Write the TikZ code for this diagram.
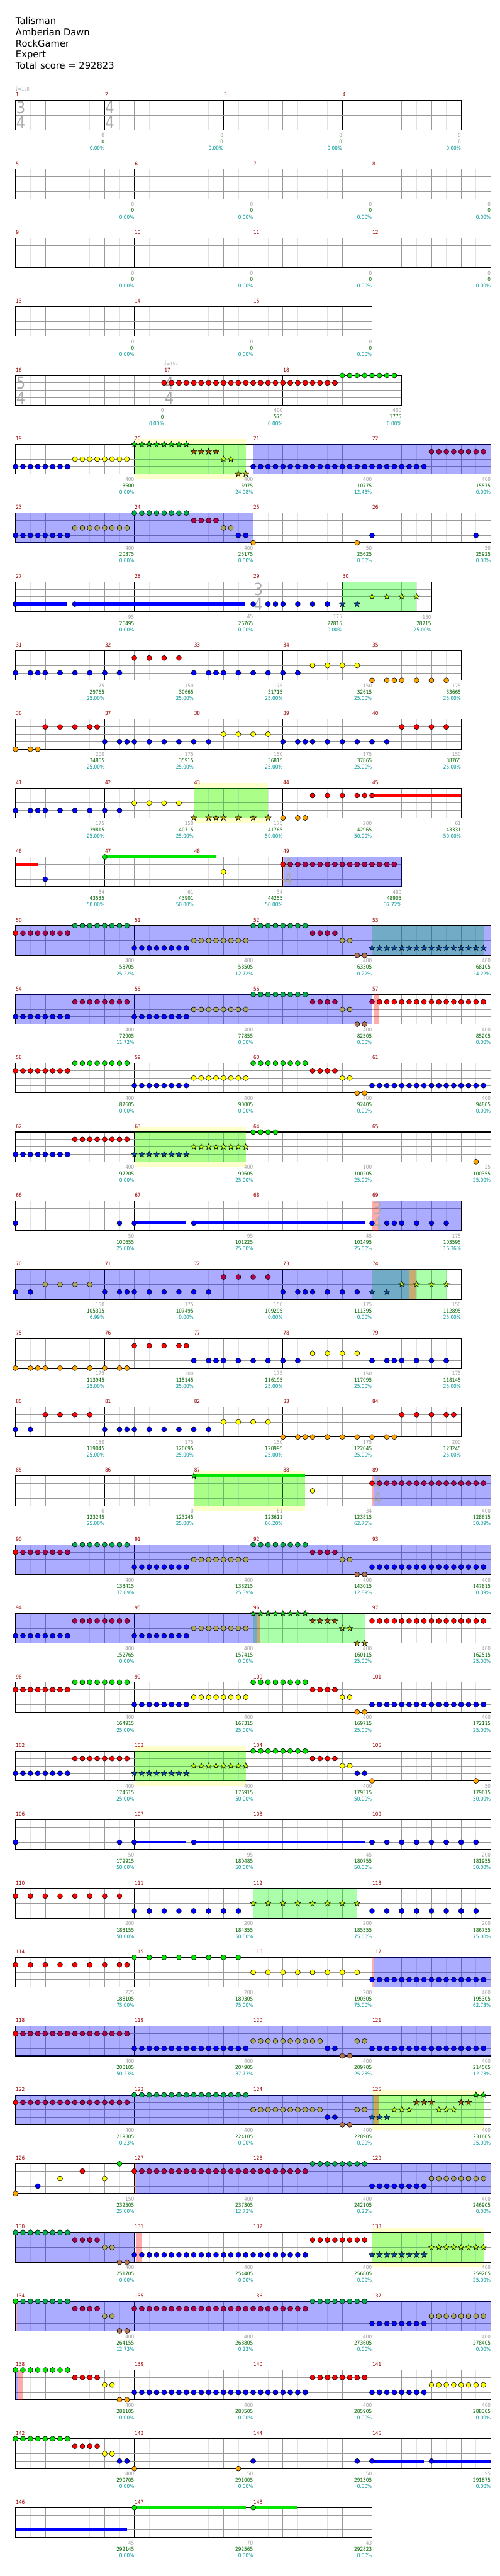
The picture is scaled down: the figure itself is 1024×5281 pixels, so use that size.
\documentclass[tikz,border=0pt]{standalone}
\usepackage{fontspec}
\setmainfont{DejaVu Sans}
\newfontfamily\smallfont[FakeStretch=0.86]{DejaVu Sans}

\definecolor{ngreen}{RGB}{0,230,0}
\definecolor{nred}{RGB}{255,0,0}
\definecolor{nyellow}{RGB}{255,255,0}
\definecolor{nblue}{RGB}{0,0,255}
\definecolor{norange}{RGB}{255,165,0}
\definecolor{odG}{RGB}{0,176,80}
\definecolor{odR}{RGB}{176,0,80}
\definecolor{odY}{RGB}{172,165,95}
\definecolor{odO}{RGB}{180,115,80}
\definecolor{sG}{RGB}{0,230,0}
\definecolor{sR}{RGB}{170,80,0}
\definecolor{sY}{RGB}{190,255,0}
\definecolor{sB}{RGB}{0,80,170}
\definecolor{sO}{RGB}{190,170,0}
\definecolor{mnumred}{RGB}{153,0,0}
\definecolor{scoregray}{RGB}{160,160,160}
\definecolor{scoregreen}{RGB}{0,100,0}
\definecolor{scoreteal}{RGB}{0,150,150}
\definecolor{gridgray}{RGB}{153,153,153}
\definecolor{gridlight}{RGB}{225,225,225}
\definecolor{tsgray}{RGB}{170,170,170}
\definecolor{halofill}{RGB}{255,255,204}

% x position of a sixteenth inside a row, top of row r
\newcommand\xn[1]{31.8+15.225*(#1)}
\newcommand\setrow[1]{\pgfmathsetmacro\rowy{205.7+141*#1}}

% measures: start/length/number/points/total/percent
\newcommand\bars[1]{%
  \foreach \n/\ml/\mnr/\vg/\vs/\vp in {#1}{%
    \pgfmathtruncatemacro\nb{\ml/4-1}
    \foreach \j in {0,...,\nb}
      \draw[halfline] ({\xn{\n+4*\j+2}},\rowy) -- ++(0,61);
    \foreach \j in {1,...,\nb}
      \draw[beatline] ({\xn{\n+4*\j}},\rowy) -- ++(0,61);
    \draw[barline] ({\xn{\n}},\rowy) -- ++(0,61);
    \node[mnum] (m\mnr) at ({\xn{\n}+0.5},{\rowy-11.5}) {\mnr};
    \node[sgray] (g\mnr) at ({\xn{\n+\ml}},{\rowy+72}) {\vg};
    \node[sgreen] (s\mnr) at ({\xn{\n+\ml}},{\rowy+85}) {\vs};
    \node[steal] (p\mnr) at ({\xn{\n+\ml}},{\rowy+98}) {\vp};
  }}
\newcommand\staff[1]{%
  \foreach \ly in {15.25,30.5,45.75}
    \draw[laneline] ({\xn{0}},{\rowy+\ly}) -- ({\xn{#1}},{\rowy+\ly});
  \draw[staffframe] ({\xn{0}},\rowy) rectangle ({\xn{#1}},{\rowy+61});}
\newcommand\halo[2]{\fill[halofill] ({\xn{#1}},{\rowy-10.5}) rectangle ({\xn{#2}},{\rowy+71.5});}
\newcommand\odzone[2]{\fill[blue, fill opacity=0.33] ({\xn{#1}},\rowy) rectangle ({\xn{#2}},{\rowy+61});}
\newcommand\spzone[2]{\fill[green, fill opacity=0.33] ({\xn{#1}},\rowy) rectangle ({\xn{#2}},{\rowy+61});}
\newcommand\hitzone[2]{\fill[red, fill opacity=0.33] ({\xn{#1}},\rowy) rectangle ({\xn{#2}},{\rowy+61});}
\newcommand\tsig[4]{%
  \node[tsnum] (#1a) at ({\xn{#2}+1},{\rowy+15.25}) {#3};
  \node[tsnum] (#1b) at ({\xn{#2}+1},{\rowy+45.75}) {#4};}
% notes: lane, colour, sixteenths
\newcommand\nts[3]{\foreach \k in {#3}
  \filldraw[note, fill=#2] ({\xn{\k}},{\rowy+15.25*#1}) circle (5.2);}
\newcommand\sts[3]{\foreach \k in {#3}
  \filldraw[note, fill=#2] ({\xn{\k}},{\rowy+15.25*#1})
    +(-90:6.4) -- +(-54:2.6) -- +(-18:6.4) -- +(18:2.6) -- +(54:6.4)
    -- +(90:2.6) -- +(126:6.4) -- +(162:2.6) -- +(198:6.4) -- +(234:2.6) -- cycle;}
\newcommand\sus[4]{\fill[#2] ({\xn{#3}},{\rowy+15.25*#1-3.1}) rectangle ({\xn{#4}},{\rowy+15.25*#1+3.1});}

\begin{document}
\begin{tikzpicture}[x=0.5pt, y=-0.5pt,
    tiny/.style={inner sep=0, font=\smallfont\fontsize{5.5}{6}\selectfont},
    mnum/.style={tiny, anchor=west, text=mnumred},
    sgray/.style={tiny, anchor=east, text=scoregray},
    sgreen/.style={tiny, anchor=east, text=scoregreen},
    steal/.style={tiny, anchor=east, text=scoreteal},
    title/.style={anchor=base west, inner sep=0, font=\fontsize{9.5}{11}\selectfont},
    tsnum/.style={anchor=west, inner sep=0, text=tsgray, font=\smallfont\fontsize{17}{18}\selectfont},
    tempo/.style={anchor=west, inner sep=0, text=tsgray, font=\smallfont\fontsize{5}{6}\selectfont},
    laneline/.style={draw=gridgray, line width=0.5pt},
    beatline/.style={draw=gridgray, line width=0.5pt},
    halfline/.style={draw=gridlight, line width=0.5pt},
    barline/.style={draw=black, line width=0.5pt},
    staffframe/.style={draw=black, line width=0.7pt},
    note/.style={draw=black, line width=0.35pt}]
  \fill[white] (0,0) rectangle (1024,5281);
  \useasboundingbox (0,0) rectangle (1024,5281);

  \node[title] (songname) at (31.8,49.3) {Talisman};
  \node[title] (bandname) at (31.8,72.4) {Amberian Dawn};
  \node[title] (chartname) at (31.8,95.5) {RockGamer};
  \node[title] (levelname) at (31.8,118.6) {Expert};
  \node[title] (totalscore) at (31.8,141.7) {Total score = 292823};

  % rows 0-3: empty intro
  \setrow{0}
  \bars{0/12/1/0/0/0.00\%, 12/16/2/0/0/0.00\%, 28/16/3/0/0/0.00\%, 44/16/4/0/0/0.00\%}
  \staff{60}
  \tsig{tsa}{0}{3}{4} \tsig{tsb}{12}{4}{4}
  \node[tempo] (tempoa) at ({\xn{0}-1},{\rowy-25}) {{\fontsize{7}{8}\selectfont ♩}=120};
  \setrow{1}
  \bars{0/16/5/0/0/0.00\%, 16/16/6/0/0/0.00\%, 32/16/7/0/0/0.00\%, 48/16/8/0/0/0.00\%}
  \staff{64}
  \setrow{2}
  \bars{0/16/9/0/0/0.00\%, 16/16/10/0/0/0.00\%, 32/16/11/0/0/0.00\%, 48/16/12/0/0/0.00\%}
  \staff{64}
  \setrow{3}
  \bars{0/16/13/0/0/0.00\%, 16/16/14/0/0/0.00\%, 32/16/15/0/0/0.00\%}
  \staff{48}

  % row 4
  \setrow{4}
  \bars{0/20/16/0/0/0.00\%, 20/16/17/400/575/0.00\%, 36/16/18/400/1775/0.00\%}
  \staff{52}
  \tsig{tsc}{0}{5}{4} \tsig{tsd}{20}{4}{4}
  \node[tempo] (tempob) at ({\xn{20}-1},{\rowy-25}) {{\fontsize{7}{8}\selectfont ♩}=152};
  \nts{1}{nred}{20,...,43} \nts{0}{ngreen}{44,...,51}

  % row 5
  \setrow{5}
  \halo{16}{31}
  \bars{0/16/19/400/3600/0.00\%, 16/16/20/400/5975/24.98\%, 32/16/21/400/10775/12.48\%, 48/16/22/400/15575/0.00\%}
  \staff{64}
  \spzone{16}{31} \odzone{32}{64}
  \nts{3}{nblue}{0,...,7} \nts{2}{nyellow}{8,...,15}
  \sts{0}{sG}{16,...,23} \sts{1}{sR}{24,...,27} \sts{2}{sY}{28,29} \sts{4}{sO}{30,31}
  \nts{3}{nblue}{32,...,55} \nts{1}{odR}{56,...,63}

  % row 6
  \setrow{6}
  \bars{0/16/23/400/20375/0.00\%, 16/16/24/400/25175/0.00\%, 32/16/25/50/25625/0.00\%, 48/16/26/50/25925/0.00\%}
  \staff{64}
  \odzone{0}{32}
  \nts{3}{nblue}{0,...,7} \nts{2}{odY}{8,...,15} \nts{0}{odG}{16,...,23} \nts{1}{odR}{24,...,27}
  \nts{2}{odY}{28,29} \nts{3}{nblue}{30,31} \nts{4}{norange}{32,46} \nts{3}{nblue}{48,62}

  % row 7
  \setrow{7}
  \bars{0/16/27/95/26495/0.00\%, 16/16/28/45/26765/0.00\%, 32/12/29/175/27815/0.00\%, 44/12/30/150/28715/25.00\%}
  \staff{56}
  \spzone{44}{54}
  \tsig{tse}{32}{3}{4}
  \sus{3}{nblue}{0}{6.97} \sus{3}{nblue}{8}{30.97}
  \nts{3}{nblue}{0,8,32,34,35,36,38,40,42}
  \sts{3}{sB}{44,46} \sts{2}{sY}{48,50,52,54}

  % row 8
  \setrow{8}
  \bars{0/12/31/175/29765/25.00\%, 12/12/32/150/30665/25.00\%, 24/12/33/175/31715/25.00\%, 36/12/34/150/32615/25.00\%, 48/12/35/175/33665/25.00\%}
  \staff{60}
  \nts{3}{nblue}{0,2,3,4,6,8,10,12,14,24,26,27,28,30,32,34,36,38}
  \nts{1}{nred}{16,18,20,22} \nts{2}{nyellow}{40,42,44,46} \nts{4}{norange}{48,50,51,52,54,56,58}

  % row 9
  \setrow{9}
  \bars{0/12/36/200/34865/25.00\%, 12/12/37/175/35915/25.00\%, 24/12/38/150/36815/25.00\%, 36/12/39/175/37865/25.00\%, 48/12/40/150/38765/25.00\%}
  \staff{60}
  \nts{4}{norange}{0,2,3} \nts{1}{nred}{4,6,8,10,11,52,54,56,58}
  \nts{3}{nblue}{12,14,15,16,18,20,22,24,26,36,38,39,40,42,44,46,48,50}
  \nts{2}{nyellow}{28,30,32,34}

  % row 10
  \setrow{10}
  \halo{24}{34}
  \bars{0/12/41/175/39815/25.00\%, 12/12/42/150/40715/25.00\%, 24/12/43/175/41765/50.00\%, 36/12/44/200/42965/50.00\%, 48/12/45/61/43331/50.00\%}
  \staff{60}
  \spzone{24}{34}
  \nts{3}{nblue}{0,2,3,4,6,8,10,12,14} \nts{2}{nyellow}{16,18,20,22}
  \sts{4}{sO}{24,26,27,28,30,32,34} \nts{4}{norange}{36,38,39}
  \sus{1}{nred}{48}{60} \nts{1}{nred}{40,42,44,46,47,48}

  % row 11
  \setrow{11}
  \bars{0/12/46/34/43535/50.00\%, 12/12/47/61/43901/50.00\%, 24/12/48/34/44255/50.00\%, 36/16/49/400/48905/37.72\%}
  \staff{52}
  \hitzone{36}{36.2} \odzone{36.2}{52}
  \tsig{tsf}{36}{4}{4}
  \sus{1}{nred}{0}{3} \nts{3}{nblue}{4}
  \sus{0}{ngreen}{12}{27} \nts{0}{ngreen}{12} \nts{2}{nyellow}{28}
  \nts{1}{nred}{36} \nts{1}{odR}{37,...,51}

  % row 12
  \setrow{12}
  \bars{0/16/50/400/53705/25.22\%, 16/16/51/400/58505/12.72\%, 32/16/52/400/63305/0.22\%, 48/16/53/400/68105/24.22\%}
  \staff{64}
  \spzone{48}{63} \odzone{0}{64}
  \nts{1}{nred}{0} \nts{1}{odR}{1,...,7} \nts{0}{odG}{8,...,15} \nts{3}{nblue}{16,...,23}
  \nts{2}{odY}{24,...,31} \nts{0}{odG}{32,...,39} \nts{1}{odR}{40,...,43} \nts{2}{odY}{44,45}
  \nts{4}{odO}{46,47} \sts{3}{sB}{48,...,63}

  % row 13
  \setrow{13}
  \bars{0/16/54/400/72905/11.72\%, 16/16/55/400/77855/0.00\%, 32/16/56/400/82505/0.00\%, 48/16/57/400/85205/0.00\%}
  \staff{64}
  \odzone{0}{48} \hitzone{48.2}{48.9}
  \nts{3}{nblue}{0,...,7} \nts{1}{odR}{8,...,15} \nts{3}{nblue}{16,...,23} \nts{2}{odY}{24,...,31}
  \nts{0}{odG}{32,...,39} \nts{1}{odR}{40,...,43} \nts{2}{odY}{44,45} \nts{4}{odO}{46,47}
  \nts{1}{odR}{48} \nts{1}{nred}{49,...,63}

  % row 14
  \setrow{14}
  \bars{0/16/58/400/87605/0.00\%, 16/16/59/400/90005/0.00\%, 32/16/60/400/92405/0.00\%, 48/16/61/400/94805/0.00\%}
  \staff{64}
  \nts{1}{nred}{0,...,7} \nts{0}{ngreen}{8,...,15} \nts{3}{nblue}{16,...,23} \nts{2}{nyellow}{24,...,31}
  \nts{0}{ngreen}{32,...,39} \nts{1}{nred}{40,...,43} \nts{2}{nyellow}{44,45} \nts{4}{norange}{46,47}
  \nts{3}{nblue}{48,...,63}

  % row 15
  \setrow{15}
  \halo{16}{31}
  \bars{0/16/62/400/97205/0.00\%, 16/16/63/400/99605/25.00\%, 32/16/64/100/100205/25.00\%, 48/16/65/25/100355/25.00\%}
  \staff{64}
  \spzone{16}{31}
  \nts{3}{nblue}{0,...,7} \nts{1}{nred}{8,...,15} \sts{3}{sB}{16,...,23} \sts{2}{sY}{24,...,31}
  \nts{0}{ngreen}{32,...,35} \nts{4}{norange}{62}

  % row 16
  \setrow{16}
  \bars{0/16/66/50/100655/25.00\%, 16/16/67/95/101225/25.00\%, 32/16/68/45/101495/25.00\%, 48/12/69/175/103595/16.36\%}
  \staff{60}
  \hitzone{48}{48.95} \odzone{48.95}{60}
  \tsig{tsg}{48}{3}{4}
  \sus{3}{nblue}{16}{23} \sus{3}{nblue}{24}{47}
  \nts{3}{nblue}{0,14,16,24,48,50,51,52,54,56,58}

  % row 17
  \setrow{17}
  \bars{0/12/70/150/105395/6.99\%, 12/12/71/175/107495/0.00\%, 24/12/72/150/109295/0.00\%, 36/12/73/175/111395/0.00\%, 48/12/74/150/112895/25.00\%}
  \staff{60}
  \spzone{48}{58} \odzone{0}{53} \hitzone{53}{54}
  \nts{3}{nblue}{0,2,12,14,15,16,18,20,22,24,26,36,38,39,40,42,44,46}
  \nts{2}{odY}{4,6,8,10} \nts{1}{odR}{28,30,32,34}
  \sts{3}{sB}{48,50} \sts{2}{sY}{52,54,56,58}

  % row 18
  \setrow{18}
  \bars{0/12/75/175/113945/25.00\%, 12/12/76/200/115145/25.00\%, 24/12/77/175/116195/25.00\%, 36/12/78/150/117095/25.00\%, 48/12/79/175/118145/25.00\%}
  \staff{60}
  \nts{4}{norange}{0,2,3,4,6,8,10,12,14,15} \nts{1}{nred}{16,18,20,22,23}
  \nts{3}{nblue}{24,26,27,28,30,32,34,36,38,48,50,51,52,54,56,58} \nts{2}{nyellow}{40,42,44,46}

  % row 19
  \setrow{19}
  \bars{0/12/80/150/119045/25.00\%, 12/12/81/175/120095/25.00\%, 24/12/82/150/120995/25.00\%, 36/12/83/175/122045/25.00\%, 48/12/84/200/123245/25.00\%}
  \staff{60}
  \nts{3}{nblue}{0,2,12,14,15,16,18,20,22,24,26} \nts{1}{nred}{4,6,8,10,52,54,56,58,59}
  \nts{2}{nyellow}{28,30,32,34} \nts{4}{norange}{36,38,39,40,42,44,46,48,50,51}

  % row 20
  \setrow{20}
  \halo{24}{39}
  \bars{0/12/85/0/123245/25.00\%, 12/12/86/0/123245/25.00\%, 24/12/87/61/123611/60.20\%, 36/12/88/34/123815/62.75\%, 48/16/89/400/128615/50.39\%}
  \staff{64}
  \spzone{24}{39} \hitzone{48}{48.2} \odzone{48.2}{64}
  \tsig{tsh}{48}{4}{4}
  \sus{0}{ngreen}{24}{39} \sts{0}{sG}{24} \nts{2}{nyellow}{40}
  \nts{1}{nred}{48} \nts{1}{odR}{49,...,63}

  % row 21
  \setrow{21}
  \bars{0/16/90/400/133415/37.89\%, 16/16/91/400/138215/25.39\%, 32/16/92/400/143015/12.89\%, 48/16/93/400/147815/0.39\%}
  \staff{64}
  \odzone{0}{64}
  \nts{1}{nred}{0} \nts{1}{odR}{1,...,7} \nts{0}{odG}{8,...,15} \nts{3}{nblue}{16,...,23}
  \nts{2}{odY}{24,...,31} \nts{0}{odG}{32,...,39} \nts{1}{odR}{40,...,43} \nts{2}{odY}{44,45}
  \nts{4}{odO}{46,47} \nts{3}{nblue}{48,...,63}

  % row 22
  \setrow{22}
  \bars{0/16/94/400/152765/0.00\%, 16/16/95/400/157415/0.00\%, 32/16/96/400/160115/25.00\%, 48/16/97/400/162515/25.00\%}
  \staff{64}
  \spzone{32}{47} \odzone{0}{32.5} \hitzone{32.5}{33}
  \nts{3}{nblue}{0,...,7} \nts{1}{odR}{8,...,15} \nts{3}{nblue}{16,...,23} \nts{2}{odY}{24,...,31}
  \sts{0}{sG}{32,...,39} \sts{1}{sR}{40,...,43} \sts{2}{sY}{44,45} \sts{4}{sO}{46,47}
  \nts{1}{nred}{48,...,63}

  % row 23
  \setrow{23}
  \bars{0/16/98/400/164915/25.00\%, 16/16/99/400/167315/25.00\%, 32/16/100/400/169715/25.00\%, 48/16/101/400/172115/25.00\%}
  \staff{64}
  \nts{1}{nred}{0,...,7} \nts{0}{ngreen}{8,...,15} \nts{3}{nblue}{16,...,23} \nts{2}{nyellow}{24,...,31}
  \nts{0}{ngreen}{32,...,39} \nts{1}{nred}{40,...,43} \nts{2}{nyellow}{44,45} \nts{4}{norange}{46,47}
  \nts{3}{nblue}{48,...,63}

  % row 24
  \setrow{24}
  \halo{16}{31}
  \bars{0/16/102/400/174515/25.00\%, 16/16/103/400/176915/50.00\%, 32/16/104/400/179315/50.00\%, 48/16/105/50/179615/50.00\%}
  \staff{64}
  \spzone{16}{31}
  \nts{3}{nblue}{0,...,7} \nts{1}{nred}{8,...,15} \sts{3}{sB}{16,...,23} \sts{2}{sY}{24,...,31}
  \nts{0}{ngreen}{32,...,39} \nts{1}{nred}{40,...,43} \nts{2}{nyellow}{44,45} \nts{3}{nblue}{46,47}
  \nts{4}{norange}{48,62}

  % row 25
  \setrow{25}
  \bars{0/16/106/50/179915/50.00\%, 16/16/107/95/180485/50.00\%, 32/16/108/45/180755/50.00\%, 48/16/109/200/181955/50.00\%}
  \staff{64}
  \sus{3}{nblue}{16}{23} \sus{3}{nblue}{24}{47}
  \nts{3}{nblue}{0,14,16,24} \nts{3}{nblue}{48,50,...,62}

  % row 26
  \setrow{26}
  \bars{0/16/110/200/183155/50.00\%, 16/16/111/200/184355/50.00\%, 32/16/112/200/185555/75.00\%, 48/16/113/200/186755/75.00\%}
  \staff{64}
  \spzone{32}{46}
  \nts{1}{nred}{0,2,...,14} \nts{3}{nblue}{16,18,...,30} \sts{2}{sY}{32,34,...,46} \nts{3}{nblue}{48,50,...,62}

  % row 27
  \setrow{27}
  \bars{0/16/114/225/188105/75.00\%, 16/16/115/200/189305/75.00\%, 32/16/116/200/190505/75.00\%, 48/16/117/400/195305/62.73\%}
  \staff{64}
  \hitzone{48}{48.25} \odzone{48.25}{64}
  \nts{1}{nred}{0,2,...,14} \nts{1}{nred}{15} \nts{0}{ngreen}{16,18,...,30}
  \nts{2}{nyellow}{32,34,...,46} \nts{3}{nblue}{48,...,63}

  % row 28
  \setrow{28}
  \bars{0/16/118/400/200105/50.23\%, 16/16/119/400/204905/37.73\%, 32/16/120/400/209705/25.23\%, 48/16/121/400/214505/12.73\%}
  \staff{64}
  \odzone{0}{64}
  \nts{1}{nred}{0} \nts{1}{odR}{1,...,15} \nts{3}{nblue}{16,...,31} \nts{2}{odY}{32,...,41}
  \nts{3}{nblue}{42,43} \nts{4}{odO}{44,45} \nts{2}{odY}{46,47} \nts{3}{nblue}{48,...,63}

  % row 29
  \setrow{29}
  \halo{48}{63}
  \bars{0/16/122/400/219305/0.23\%, 16/16/123/400/224105/0.00\%, 32/16/124/400/228905/0.00\%, 48/16/125/400/231605/25.00\%}
  \staff{64}
  \spzone{48}{63} \odzone{0}{48.2} \hitzone{48.2}{49}
  \nts{1}{nred}{0} \nts{1}{odR}{1,...,15} \nts{0}{odG}{16,...,31} \nts{2}{odY}{32,...,41}
  \nts{3}{nblue}{42,43} \nts{4}{odO}{44,45} \nts{2}{odY}{46,47}
  \sts{3}{sB}{48,49,50} \sts{2}{sY}{51,52,53,57,58,59} \sts{1}{sR}{54,55,56,60,61} \sts{0}{sG}{62,63}

  % row 30
  \setrow{30}
  \bars{0/16/126/150/232505/25.00\%, 16/16/127/400/237305/12.73\%, 32/16/128/400/242105/0.23\%, 48/16/129/400/246905/0.00\%}
  \staff{64}
  \hitzone{16}{16.25} \odzone{16.25}{64}
  \nts{4}{norange}{0} \nts{3}{nblue}{3} \nts{2}{nyellow}{6,12} \nts{1}{nred}{9} \nts{0}{ngreen}{14}
  \nts{1}{nred}{16} \nts{1}{odR}{17,...,39} \nts{0}{odG}{40,...,47} \nts{3}{nblue}{48,...,55}
  \nts{2}{odY}{56,...,63}

  % row 31
  \setrow{31}
  \halo{48}{63}
  \bars{0/16/130/400/251705/0.00\%, 16/16/131/400/254405/0.00\%, 32/16/132/400/256805/0.00\%, 48/16/133/400/259205/25.00\%}
  \staff{64}
  \odzone{0}{16} \hitzone{16.2}{16.95} \spzone{48}{63}
  \nts{0}{odG}{0,...,7} \nts{1}{odR}{8,...,11} \nts{2}{odY}{12,13} \nts{4}{odO}{14,15}
  \nts{3}{nblue}{16,...,39} \nts{1}{nred}{40,...,47} \sts{3}{sB}{48,...,55} \sts{2}{sY}{56,...,63}

  % row 32
  \setrow{32}
  \bars{0/16/134/400/264155/12.73\%, 16/16/135/400/268805/0.23\%, 32/16/136/400/273605/0.00\%, 48/16/137/400/278405/0.00\%}
  \staff{64}
  \hitzone{0}{0.2} \odzone{0.2}{64}
  \nts{0}{ngreen}{0} \nts{0}{odG}{1,...,7} \nts{1}{odR}{8,...,11} \nts{2}{odY}{12,13} \nts{4}{odO}{14,15}
  \nts{1}{odR}{16,...,39} \nts{0}{odG}{40,...,47} \nts{3}{nblue}{48,...,55} \nts{2}{odY}{56,...,63}

  % row 33
  \setrow{33}
  \bars{0/16/138/400/281105/0.00\%, 16/16/139/400/283505/0.00\%, 32/16/140/400/285905/0.00\%, 48/16/141/400/288305/0.00\%}
  \staff{64}
  \odzone{0}{0.3} \hitzone{0.3}{1}
  \nts{0}{ngreen}{0,...,7} \nts{1}{nred}{8,...,11} \nts{2}{nyellow}{12,13} \nts{4}{norange}{14,15}
  \nts{3}{nblue}{16,...,39} \nts{1}{nred}{40,...,47} \nts{3}{nblue}{48,...,55} \nts{2}{nyellow}{56,...,63}

  % row 34
  \setrow{34}
  \bars{0/16/142/400/290705/0.00\%, 16/16/143/50/291005/0.00\%, 32/16/144/50/291305/0.00\%, 48/16/145/95/291875/0.00\%}
  \staff{64}
  \nts{0}{ngreen}{0,...,7} \nts{1}{nred}{8,...,11} \nts{2}{nyellow}{12,13} \nts{3}{nblue}{14,15}
  \nts{4}{norange}{16,30} \nts{3}{nblue}{32,46}
  \sus{3}{nblue}{48}{55} \sus{3}{nblue}{56}{64} \nts{3}{nblue}{48,56}

  % row 35
  \setrow{35}
  \bars{0/16/146/45/292145/0.00\%, 16/16/147/70/292565/0.00\%, 32/16/148/43/292823/0.00\%}
  \staff{48}
  \sus{3}{nblue}{0}{15} \sus{0}{ngreen}{16}{31} \sus{0}{ngreen}{32}{38} \nts{0}{ngreen}{16,32}
\end{tikzpicture}
\end{document}
